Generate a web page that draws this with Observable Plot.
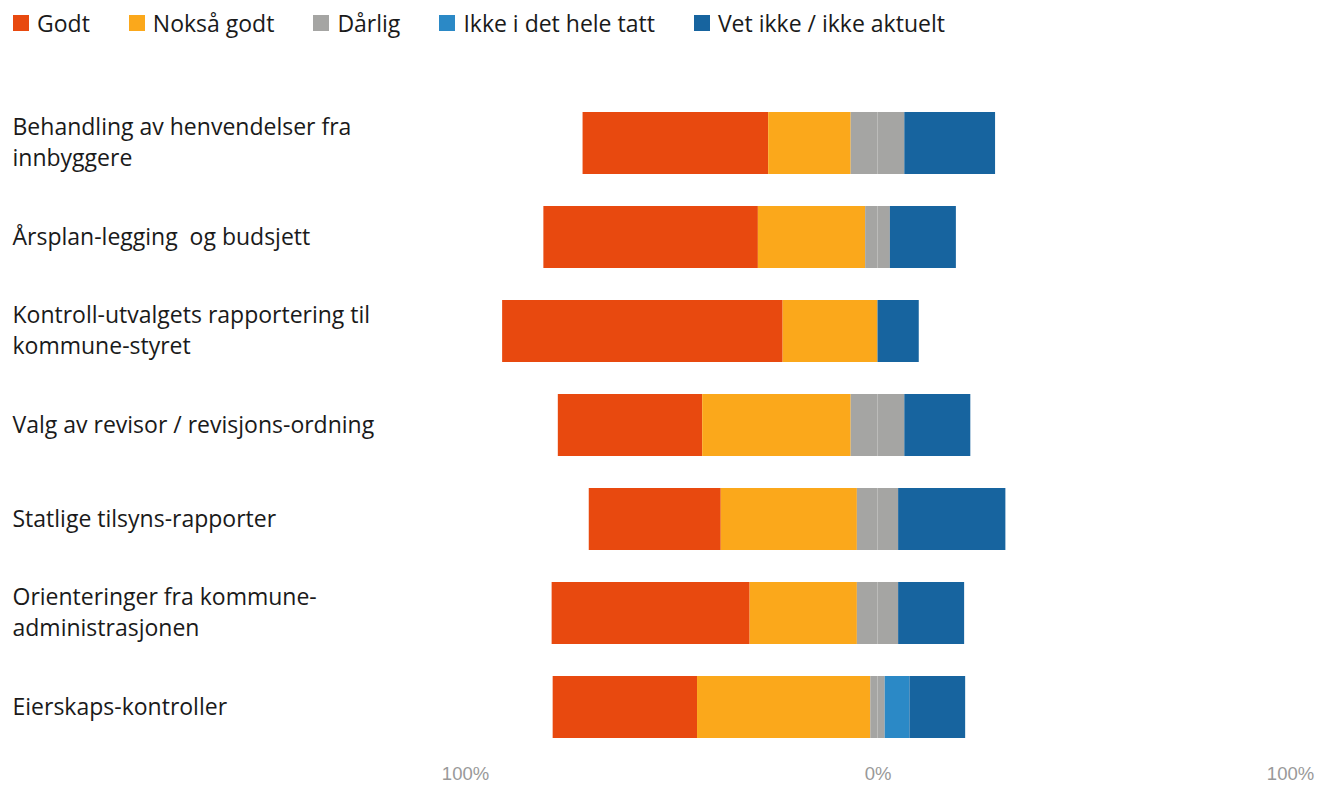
<!DOCTYPE html>
<html><head><meta charset="utf-8">
<script src="https://cdn.jsdelivr.net/npm/d3@7"></script>
<script src="https://cdn.jsdelivr.net/npm/@observablehq/plot@0.6"></script>
<style>
body{margin:0;background:#fff;font-family:"Open Sans",sans-serif;}
#legend{display:flex;align-items:center;height:46px;padding-left:13px;font-size:23px;color:#1a1a1a;}
.item{display:flex;align-items:center;margin-right:39px;}
.sw{width:16px;height:16px;margin-right:8px;}
#chart svg{display:block;}
</style></head><body>
<div id="legend"></div>
<div id="chart"></div>
<script>
const categories = [
  "Behandling av henvendelser fra\ninnbyggere",
  "Årsplan-legging  og budsjett",
  "Kontroll-utvalgets rapportering til\nkommune-styret",
  "Valg av revisor / revisjons-ordning",
  "Statlige tilsyns-rapporter",
  "Orienteringer fra kommune-\nadministrasjonen",
  "Eierskaps-kontroller"
];
const responses = ["Godt", "Nokså godt", "Dårlig", "Ikke i det hele tatt", "Vet ikke / ikke aktuelt"];
const godt    = [45, 52, 68, 35, 32, 48, 35];
const noksa   = [20, 26, 23, 36, 33, 26, 42];
const darlig  = [13,  6,  0, 13, 10, 10, 3.5];
const ikke    = [ 0,  0,  0,  0,  0,  0, 6];
const vetIkke = [22, 16, 10, 16, 26, 16, 13.5];
const colors = ["#e8490f", "#fba81b", "#a5a5a3", "#2b89c6", "#17649f"];
const tickValues = [-100, 0, 100];
const tickLabels = ["100%", "0%", "100%"];

// legend
const leg = document.getElementById("legend");
responses.forEach((r, i) => {
  const it = document.createElement("div"); it.className = "item";
  const sw = document.createElement("div"); sw.className = "sw"; sw.style.background = colors[i];
  const tx = document.createElement("span"); tx.textContent = r;
  it.appendChild(sw); it.appendChild(tx); leg.appendChild(it);
});

// tidy rows (diverging: negative side = Godt, Nokså godt, half Dårlig)
const rows = [];
categories.forEach((c, i) => {
  rows.push({cat: c, key: "Godt", part: "Godt", v: -godt[i]});
  rows.push({cat: c, key: "Nokså godt", part: "Nokså godt", v: -noksa[i]});
  rows.push({cat: c, key: "Dårlig", part: "Dårlig-", v: -darlig[i] / 2});
  rows.push({cat: c, key: "Dårlig", part: "Dårlig+", v: darlig[i] / 2});
  rows.push({cat: c, key: "Ikke i det hele tatt", part: "Ikke i det hele tatt", v: ikke[i]});
  rows.push({cat: c, key: "Vet ikke / ikke aktuelt", part: "Vet ikke / ikke aktuelt", v: vetIkke[i]});
});
const order = ["Dårlig-", "Dårlig+", "Nokså godt", "Ikke i det hele tatt", "Godt", "Vet ikke / ikke aktuelt"];
const withDarlig = categories.filter((c, i) => darlig[i] > 0);

const chart = Plot.plot({
  width: 1333,
  height: 741,
  marginLeft: 465,
  marginRight: 43,
  marginTop: 63.5,
  marginBottom: 45.5,
  style: {fontFamily: "Open Sans, sans-serif", background: "#fff"},
  x: {domain: [-100, 100], axis: null},
  y: {domain: categories, paddingInner: 0.336, paddingOuter: 0, axis: null},
  color: {domain: responses, range: colors},
  marks: [
    Plot.barX(rows, Plot.stackX({x: "v", y: "cat", fill: "key", z: "part", order})),
    Plot.ruleX(withDarlig, {x: 0, y: d => d, stroke: "white", strokeWidth: 2}),
    Plot.text(categories, {y: d => d, text: d => d, frameAnchor: "left", textAnchor: "start", dx: -453, dy: -2.5, fontSize: 23, lineHeight: 1.35, fill: "#1a1a1a"}),
    Plot.axisX({ticks: tickValues, tickFormat: d => tickLabels[tickValues.indexOf(d)], tickSize: 0, tickPadding: 25, fontSize: 18.5, fill: "#999", fontFamily: "Liberation Sans, sans-serif", label: null})
  ]
});
document.getElementById("chart").appendChild(chart);
</script>
</body></html>
